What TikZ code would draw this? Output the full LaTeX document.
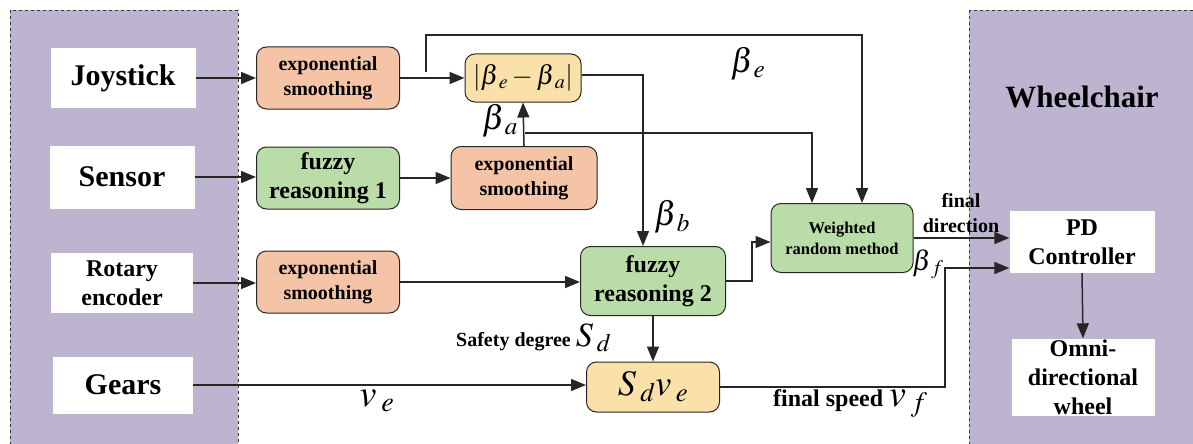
\documentclass[tikz,border=0pt]{standalone}
\usepackage{mathptmx}
\usepackage{fontspec}
\setmainfont{Liberation Serif}
\usetikzlibrary{arrows.meta}
\definecolor{panel}{HTML}{BDB4D0}
\definecolor{orangebox}{HTML}{F5C4A6}
\definecolor{greenbox}{HTML}{BADCA8}
\definecolor{yellowbox}{HTML}{F9E1A9}
\newcommand{\sbx}[2]{#1_{\mkern3mu #2}}
\tikzset{
  panelbox/.style={draw=black!80, dashed, fill=panel, line width=0.8pt},
  whitebox/.style={fill=white, draw=none, inner sep=0pt, align=center, font=\bfseries\fontsize{30}{34}\selectfont},
  smallwhite/.style={whitebox, font=\bfseries\fontsize{24}{29}\selectfont},
  rbox/.style={draw=black!85, line width=1pt, rounded corners=10pt, inner sep=0pt, align=center},
  orbox/.style={rbox, fill=orangebox, font=\bfseries\fontsize{20}{25}\selectfont},
  grbox/.style={rbox, fill=greenbox, font=\bfseries\fontsize{24}{29}\selectfont},
  yebox/.style={rbox, fill=yellowbox},
  conn/.style={draw=black!85, line width=1.5pt, -{Triangle[length=15pt,width=12pt]}},
  lbl/.style={inner sep=0pt, font=\bfseries\fontsize{20}{25}\selectfont, align=center},
  mlbl/.style={inner sep=0pt, font=\fontsize{34}{38}\selectfont},
}
\begin{document}
\begin{tikzpicture}[x=1pt,y=-1pt]
\useasboundingbox (0,0) rectangle (1193,444);
% panels
\path[panelbox] (10,10) rectangle (238,460);
\path[panelbox] (969,10) rectangle (1210,460);
\node[inner sep=0pt, font=\bfseries\fontsize{31}{36}\selectfont] (wheelchair) at (1082,97) {Wheelchair};
% left inputs
\node[whitebox, minimum width=145pt, minimum height=60pt] (joy) at (123,78) {Joystick};
\node[whitebox, minimum width=145pt, minimum height=63pt] (sens) at (122,177) {Sensor};
\node[smallwhite, minimum width=142pt, minimum height=60pt] (rot) at (122,283) {Rotary\\encoder};
\node[whitebox, minimum width=140pt, minimum height=57pt] (gears) at (123,385) {Gears};
% processing
\node[orbox, minimum width=143pt, minimum height=62pt] (es1) at (328,78) {exponential\\smoothing};
\node[grbox, minimum width=143pt, minimum height=62pt] (fr1) at (328,178) {fuzzy\\reasoning 1};
\node[orbox, minimum width=143pt, minimum height=62pt] (es3) at (328,282) {exponential\\smoothing};
\node[yebox, minimum width=116pt, minimum height=48pt, font=\fontsize{27}{32}\selectfont] (yel) at (523,78) {$\left|\sbx{\beta}{e}-\sbx{\beta}{a}\right|$};
\node[orbox, minimum width=146pt, minimum height=63pt] (es2) at (524,178) {exponential\\smoothing};
\node[grbox, minimum width=145pt, minimum height=69pt] (fr2) at (653,281) {fuzzy\\reasoning 2};
\node[grbox, minimum width=142pt, minimum height=69pt, font=\bfseries\fontsize{16.5}{21}\selectfont] (wrm) at (842,238) {Weighted\\random method};
\node[yebox, minimum width=133pt, minimum height=50pt, font=\fontsize{36}{40}\selectfont] (sdve) at (653,387) {$\sbx{S}{d}\sbx{v}{e}$};
% wheelchair boxes
\node[smallwhite, minimum width=145pt, minimum height=62pt] (pd) at (1082,242) {PD\\Controller};
\node[smallwhite, minimum width=143pt, minimum height=77pt] (omni) at (1083,377) {Omni-\\directional\\wheel};
% branch coordinates
\coordinate (b1) at (426,72);
\coordinate (b2) at (525,133);
% connectors
\draw[conn] (joy.east) -- (es1.west);
\draw[conn] (sens.east) -- (fr1.west |- sens.east);
\draw[conn] (rot.east) -- (es3.west |- rot.east);
\draw[conn] (gears.east) -- (sdve.west |- gears.east);
\draw[conn] (es1.east) -- (yel.west);
\draw[conn] (b1) -- (426,35) -| ([xshift=20pt]wrm.north);
\draw[conn] (fr1.east) -- (es2.west |- fr1.east);
\draw[conn] (es2.north) -- (yel.south);
\draw[conn] (b2) -| ([xshift=-30pt]wrm.north);
\draw[conn] ([yshift=3pt]yel.east) -| ([xshift=-10pt]fr2.north);
\draw[conn] (es3.east) -- (fr2.west |- es3.east);
\draw[conn] (fr2.east) -- (752,281) |- ([yshift=-4pt]wrm.west);
\draw[conn] (fr2.south) -- (sdve.north);
\draw[conn] (wrm.east) -- (pd.west |- wrm.east);
\draw[conn] (sdve.east) -- (945,387) |- ([yshift=-26pt]pd.west);
\draw[conn] (pd.south) -- (omni.north);
% labels
\node[mlbl] (lbe) at (748,64) {$\sbx{\beta}{e}$};
\node[mlbl] (lba) at (500,121) {$\sbx{\beta}{a}$};
\node[mlbl] (lbb) at (672,217) {$\sbx{\beta}{b}$};
\node[mlbl, font=\fontsize{28}{32}\selectfont] (lbf) at (928,264) {$\sbx{\beta}{f}$};
\node[mlbl, font=\fontsize{38}{42}\selectfont] (lve) at (377,401) {$\sbx{v}{e}$};
\node[lbl] (lfd) at (961,213) {final\\direction};
\node[lbl, anchor=base west] (lsd) at (456,346) {Safety degree \fontsize{34}{38}\selectfont$\sbx{S}{d}$};
\node[lbl, anchor=base west, font=\bfseries\fontsize{24}{28}\selectfont] (lfs) at (773,406) {final speed \fontsize{38}{42}\selectfont$\sbx{v}{f}$};
\end{tikzpicture}
\end{document}
